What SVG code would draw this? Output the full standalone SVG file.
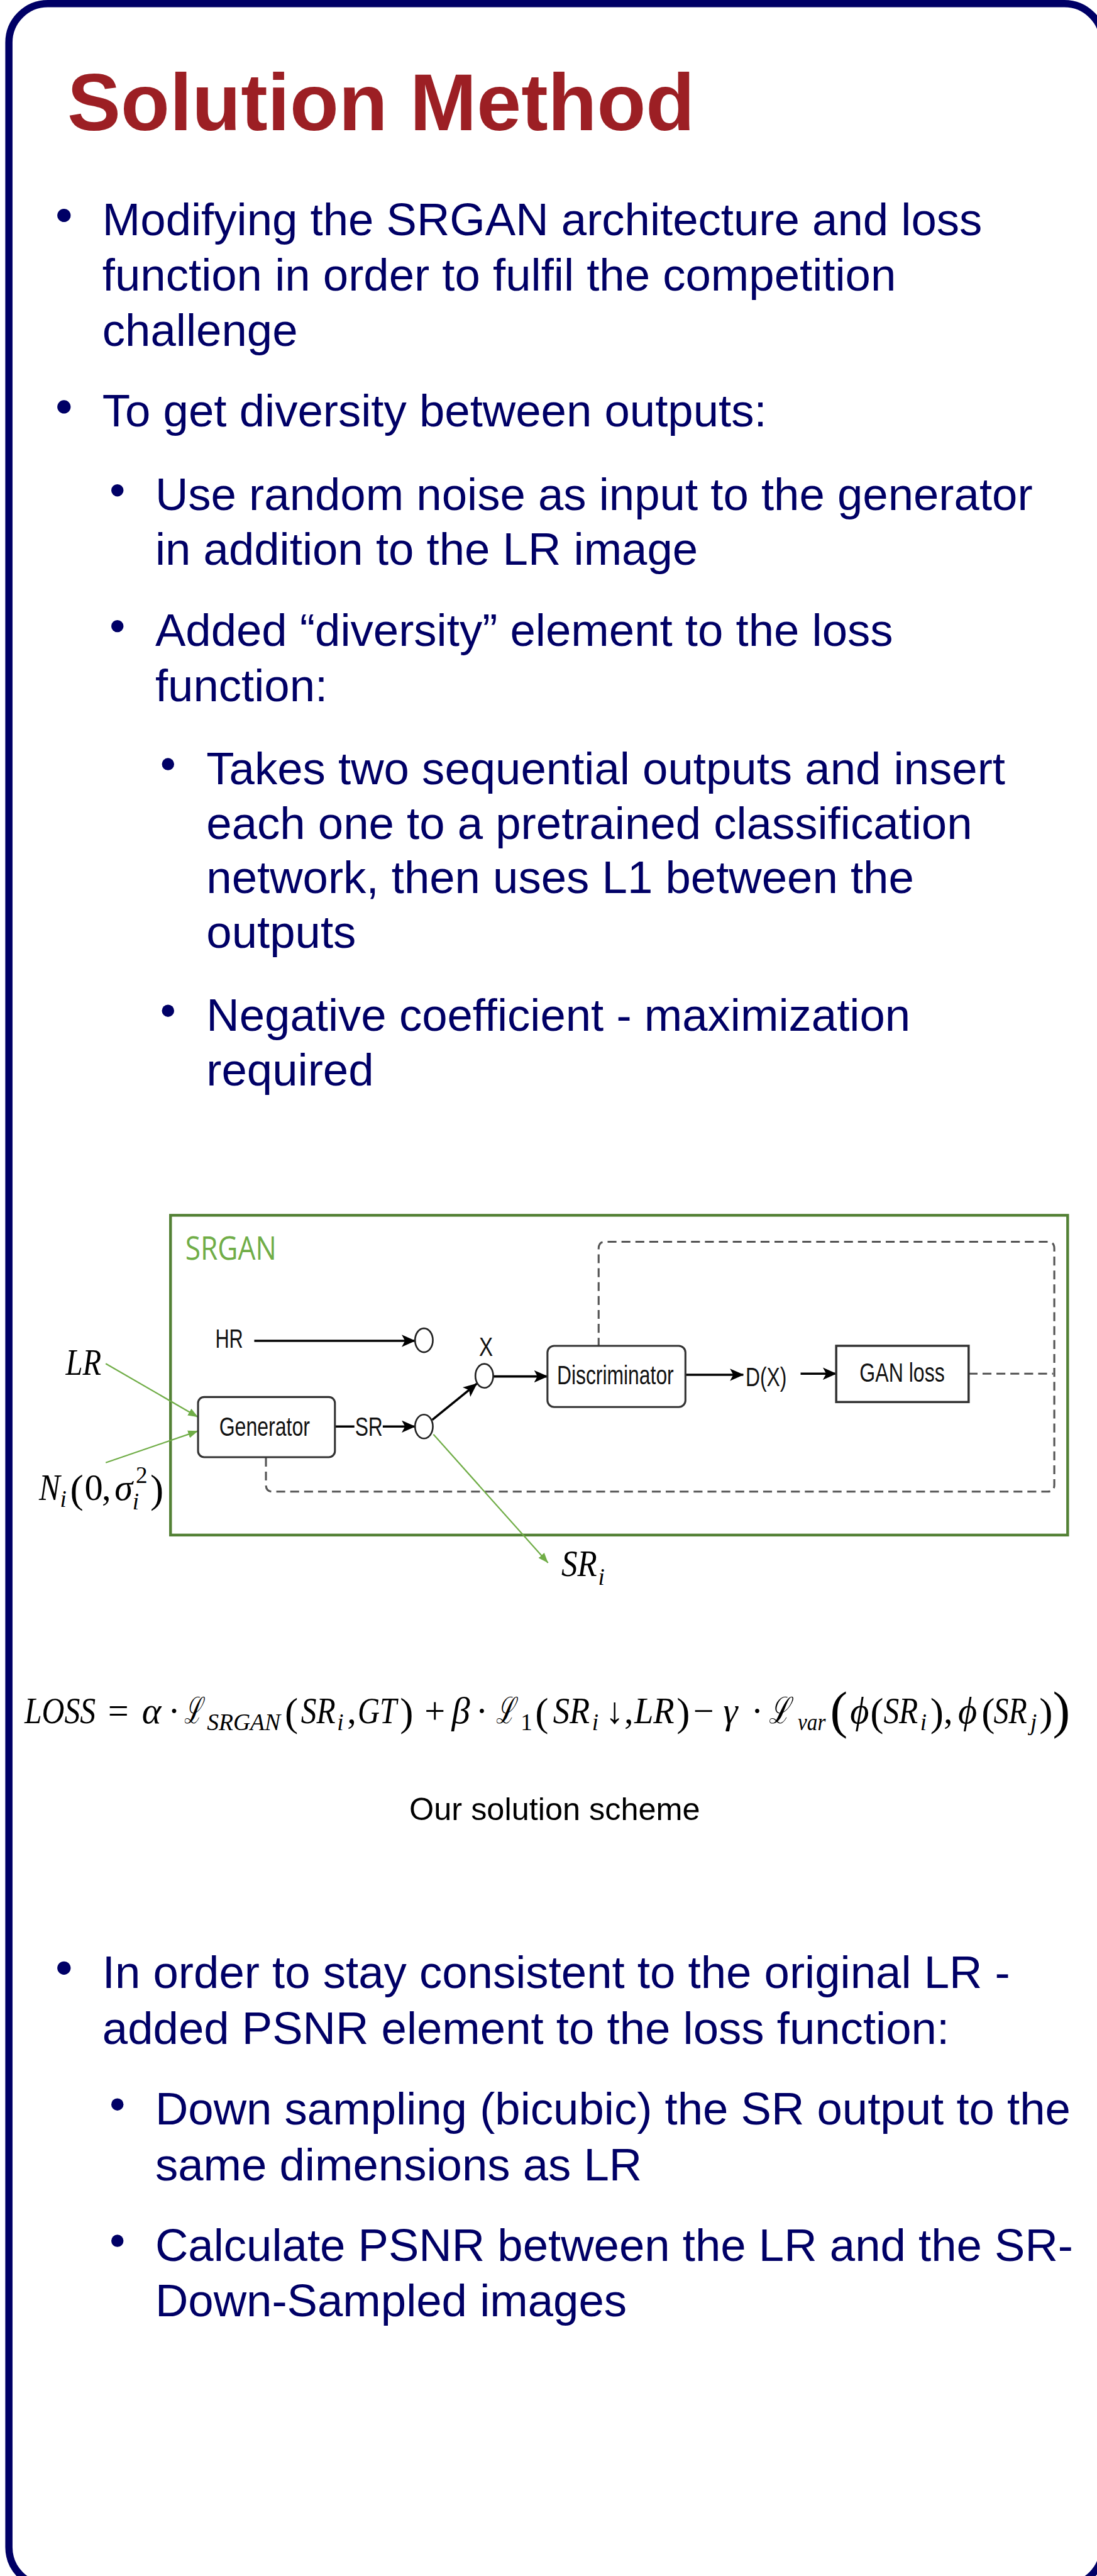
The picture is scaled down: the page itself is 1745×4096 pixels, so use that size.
<svg xmlns="http://www.w3.org/2000/svg" width="1745" height="4096" viewBox="0 0 1745 4096">
<defs>
<style>
.body{font-family:"Liberation Sans",Arial,sans-serif;font-size:82px;fill:#000066}
.title{font-family:"Liberation Sans",Arial,sans-serif;font-weight:bold;font-size:144px;fill:#9C1F24}
.dg{font-family:"Liberation Sans",Arial,sans-serif;font-size:48px;fill:#111}
.m{font-family:"Liberation Serif","DejaVu Serif",serif;font-style:italic;font-size:66px;fill:#000}
.u{font-style:normal}
.s{font-size:42px}
.p{font-size:72px}
.bp{font-size:94px}
.dot{fill:#000066}
.circ{fill:#fff;stroke:#222;stroke-width:3}
.box{fill:#fff;stroke:#333;stroke-width:3.5}
.arr{stroke:#000;stroke-width:4;fill:none}
.garr{stroke:#70AD47;stroke-width:2.5;fill:none}
.dash{stroke:#555;stroke-width:3.5;fill:none;stroke-dasharray:16 9}
</style>
<marker id="ah" markerUnits="userSpaceOnUse" viewBox="0 0 25 22" refX="24" refY="11" markerWidth="25" markerHeight="22" orient="auto"><path d="M0,0 L25,11 L0,22 L6,11 Z" fill="#000"/></marker>
<marker id="gh" markerUnits="userSpaceOnUse" viewBox="0 0 18 14" refX="18" refY="7" markerWidth="18" markerHeight="14" orient="auto"><path d="M0,0 L18,7 L0,14 Z" fill="#70AD47"/></marker>
</defs>
<rect width="1745" height="4096" fill="#fff"/>
<g transform="scale(0.885)">
<g id="frame"><rect x="16" y="6.5" width="1967" height="4640" rx="70" ry="70" fill="none" stroke="#000066" stroke-width="13"/></g>
<g id="title"><text class="title" x="121" y="234">Solution Method</text></g>
<g id="bullets-top">
<circle class="dot" cx="115" cy="387" r="12"/>
<text class="body" x="184" y="423">Modifying the SRGAN architecture and loss</text>
<text class="body" x="184" y="522">function in order to fulfil the competition</text>
<text class="body" x="184" y="622">challenge</text>
<circle class="dot" cx="115" cy="731" r="12"/>
<text class="body" x="184" y="766">To get diversity between outputs:</text>
<circle class="dot" cx="211" cy="881" r="11"/>
<text class="body" x="279" y="916">Use random noise as input to the generator</text>
<text class="body" x="279" y="1015">in addition to the LR image</text>
<circle class="dot" cx="211" cy="1125" r="11"/>
<text class="body" x="279" y="1161">Added “diversity” element to the loss</text>
<text class="body" x="279" y="1260">function:</text>
<circle class="dot" cx="302" cy="1373" r="11"/>
<text class="body" x="371" y="1409">Takes two sequential outputs and insert</text>
<text class="body" x="371" y="1507">each one to a pretrained classification</text>
<text class="body" x="371" y="1605">network, then uses L1 between the</text>
<text class="body" x="371" y="1703">outputs</text>
<circle class="dot" cx="302" cy="1816" r="11"/>
<text class="body" x="371" y="1852">Negative coefficient - maximization</text>
<text class="body" x="371" y="1950">required</text>
</g>
<g id="srgan-frame">
<rect x="306.5" y="2183.5" width="1612.5" height="574.5" fill="none" stroke="#538135" stroke-width="5"/>
<text x="333" y="2263" font-family="'Open Sans','Liberation Sans',sans-serif" font-size="58" fill="#70AD47" textLength="164" lengthAdjust="spacingAndGlyphs">SRGAN</text>
</g>
<g id="connectors">
<path class="dash" d="M478,2619 L478,2668 Q478,2680 490,2680 L1883,2680 Q1895,2680 1895,2668 L1895,2243 Q1895,2231 1883,2231 L1088,2231 Q1076,2231 1076,2243 L1076,2418"/>
<path class="dash" d="M1741,2468 L1893,2468"/>
<line class="arr" x1="457" y1="2409" x2="746" y2="2409" marker-end="url(#ah)"/>
<line class="arr" x1="602" y1="2563" x2="637" y2="2563"/>
<line class="arr" x1="688" y1="2563" x2="746" y2="2563" marker-end="url(#ah)"/>
<line class="arr" x1="777" y1="2551" x2="857" y2="2486" marker-end="url(#ah)"/>
<line class="arr" x1="886" y1="2473" x2="984" y2="2473" marker-end="url(#ah)"/>
<line class="arr" x1="1232" y1="2470" x2="1336" y2="2470" marker-end="url(#ah)"/>
<line class="arr" x1="1439" y1="2468" x2="1503" y2="2468" marker-end="url(#ah)"/>
<line class="garr" x1="190" y1="2450" x2="356" y2="2546" marker-end="url(#gh)"/>
<line class="garr" x1="190" y1="2628" x2="356" y2="2571" marker-end="url(#gh)"/>
<line class="garr" x1="779" y1="2577" x2="985" y2="2808" marker-end="url(#gh)"/>
</g>
<g id="hr-label"><text class="dg" x="387" y="2422" textLength="50" lengthAdjust="spacingAndGlyphs">HR</text></g>
<g id="hr-node"><ellipse class="circ" cx="762" cy="2408" rx="16" ry="21.5"/></g>
<g id="sr-node"><ellipse class="circ" cx="762" cy="2563" rx="16" ry="21.5"/></g>
<g id="x-node"><ellipse class="circ" cx="870.5" cy="2472" rx="16" ry="21.5"/><text class="dg" x="861" y="2436" textLength="25" lengthAdjust="spacingAndGlyphs">X</text></g>
<g id="sr-label"><text class="dg" x="638" y="2580" textLength="50" lengthAdjust="spacingAndGlyphs">SR</text></g>
<g id="generator"><rect class="box" x="356" y="2510" width="246" height="108" rx="11"/><text class="dg" x="394" y="2580" textLength="163" lengthAdjust="spacingAndGlyphs">Generator</text></g>
<g id="discriminator"><rect class="box" x="984" y="2418" width="248" height="110" rx="12"/><text class="dg" x="1001" y="2487" textLength="210" lengthAdjust="spacingAndGlyphs">Discriminator</text></g>
<g id="dx-label"><text class="dg" x="1340" y="2490" textLength="74" lengthAdjust="spacingAndGlyphs">D(X)</text></g>
<g id="gan-loss"><rect x="1503" y="2418" width="238" height="101" fill="#fff" stroke="#333" stroke-width="4"/><text class="dg" x="1545" y="2482" textLength="153" lengthAdjust="spacingAndGlyphs">GAN loss</text></g>
<g id="lr-input"><text class="m" x="118" y="2470" textLength="64" lengthAdjust="spacingAndGlyphs">LR</text></g>
<g id="noise-input">
<text class="m" x="70" y="2695" textLength="38" lengthAdjust="spacingAndGlyphs">N</text>
<text class="m s" x="108" y="2707">i</text>
<text class="m u p" x="126" y="2699">(</text>
<text class="m u" x="152" y="2695">0</text>
<text class="m u" x="183" y="2695">,</text>
<text class="m" x="206" y="2695">σ</text>
<text class="m s" x="238" y="2712">i</text>
<text class="m u s" x="244" y="2664">2</text>
<text class="m u p" x="270" y="2699">)</text>
</g>
<g id="sri-output"><text class="m" x="1009" y="2832" textLength="64" lengthAdjust="spacingAndGlyphs">SR</text><text class="m s" x="1075" y="2847">i</text></g>
<g id="equation">
<text class="m" x="44" y="3096" textLength="128" lengthAdjust="spacingAndGlyphs">LOSS</text>
<text class="m u" x="194" y="3096">=</text>
<text class="m" x="255" y="3096">α</text>
<text class="m u" x="302" y="3096">·</text>
<text class="m" x="331" y="3096" textLength="32" lengthAdjust="spacingAndGlyphs">ℒ</text>
<text class="m s" x="372" y="3109" textLength="132" lengthAdjust="spacingAndGlyphs">SRGAN</text>
<text class="m u p" x="512" y="3101">(</text>
<text class="m" x="541" y="3096" textLength="62" lengthAdjust="spacingAndGlyphs">SR</text>
<text class="m s" x="606" y="3109">i</text>
<text class="m u" x="624" y="3096">,</text>
<text class="m" x="643" y="3096" textLength="70" lengthAdjust="spacingAndGlyphs">GT</text>
<text class="m u p" x="719" y="3101">)</text>
<text class="m u" x="763" y="3096">+</text>
<text class="m" x="812" y="3096">β</text>
<text class="m u" x="855" y="3096">·</text>
<text class="m" x="891" y="3096" textLength="34" lengthAdjust="spacingAndGlyphs">ℒ</text>
<text class="m u s" x="936" y="3109">1</text>
<text class="m u p" x="962" y="3101">(</text>
<text class="m" x="994" y="3096" textLength="66" lengthAdjust="spacingAndGlyphs">SR</text>
<text class="m s" x="1064" y="3109">i</text>
<text class="m u" x="1088" y="3096">↓</text>
<text class="m u" x="1122" y="3096">,</text>
<text class="m" x="1140" y="3096" textLength="72" lengthAdjust="spacingAndGlyphs">LR</text>
<text class="m u p" x="1216" y="3101">)</text>
<text class="m u" x="1246" y="3096">−</text>
<text class="m" x="1300" y="3096">γ</text>
<text class="m u" x="1350" y="3096">·</text>
<text class="m" x="1382" y="3096" textLength="38" lengthAdjust="spacingAndGlyphs">ℒ</text>
<text class="m s" x="1434" y="3109" textLength="50" lengthAdjust="spacingAndGlyphs">var</text>
<text class="m u bp" x="1492" y="3104">(</text>
<text class="m" x="1528" y="3096">ϕ</text>
<text class="m u p" x="1564" y="3101">(</text>
<text class="m" x="1588" y="3096" textLength="62" lengthAdjust="spacingAndGlyphs">SR</text>
<text class="m s" x="1654" y="3109">i</text>
<text class="m u p" x="1672" y="3101">)</text>
<text class="m u" x="1696" y="3096">,</text>
<text class="m" x="1722" y="3096">ϕ</text>
<text class="m u p" x="1764" y="3101">(</text>
<text class="m" x="1786" y="3096" textLength="60" lengthAdjust="spacingAndGlyphs">SR</text>
<text class="m s" x="1852" y="3109">j</text>
<text class="m u p" x="1868" y="3101">)</text>
<text class="m u bp" x="1892" y="3104">)</text>
</g>
<g id="caption"><text x="997" y="3270" text-anchor="middle" font-family="'Liberation Sans',Arial,sans-serif" font-size="57" fill="#000">Our solution scheme</text></g>
<g id="bullets-bottom">
<circle class="dot" cx="115" cy="3536" r="12"/>
<text class="body" x="184" y="3572">In order to stay consistent to the original LR -</text>
<text class="body" x="184" y="3672">added PSNR element to the loss function:</text>
<circle class="dot" cx="211" cy="3781" r="11"/>
<text class="body" x="279" y="3817">Down sampling (bicubic) the SR output to the</text>
<text class="body" x="279" y="3917">same dimensions as LR</text>
<circle class="dot" cx="211" cy="4026" r="11"/>
<text class="body" x="279" y="4062">Calculate PSNR between the LR and the SR-</text>
<text class="body" x="279" y="4162">Down-Sampled images</text>
</g>
</g>
</svg>
